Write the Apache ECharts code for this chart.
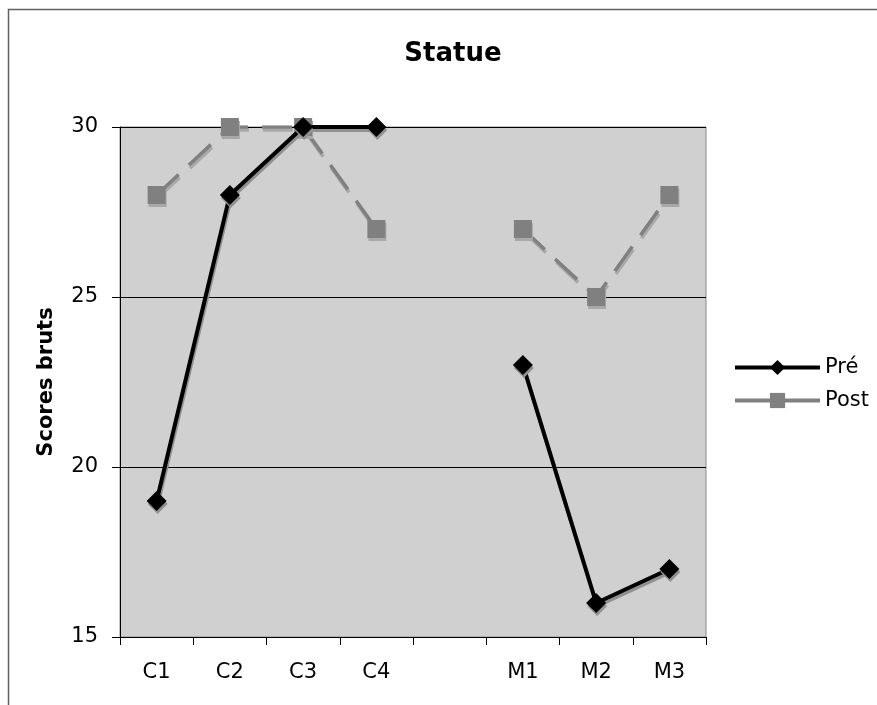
<!DOCTYPE html>
<html>
<head>
<meta charset="utf-8">
<script src="https://cdn.jsdelivr.net/npm/echarts@6/dist/echarts.min.js"></script>
<style>
  html, body { margin: 0; padding: 0; background: #fff; }
  #chart { width: 877px; height: 705px; }
</style>
</head>
<body>
<div id="chart"></div>
<script>
// Categories (an empty slot separates the C group from the M group)
const categories = ['C1', 'C2', 'C3', 'C4', '', 'M1', 'M2', 'M3'];
// Raw scores
const preScores = [19, 28, 30, 30, null, 23, 16, 17];
const postScores = [28, 30, 30, 27, null, 27, 25, 28];
const yTicks = { min: 15, max: 30, step: 5 };

const FONT = 'DejaVu Sans, Verdana, sans-serif';
const chart = echarts.init(document.getElementById('chart'), null, { renderer: 'canvas' });

const preLine = {
  color: '#000', width: 4,
  shadowColor: '#909090', shadowOffsetX: 1, shadowOffsetY: 3, shadowBlur: 0
};
const postLine = {
  color: '#808080', width: 3.5, type: [30, 14],
  shadowColor: '#a8a8a8', shadowOffsetX: 1, shadowOffsetY: 3, shadowBlur: 0
};

chart.setOption({
  animation: false,
  backgroundColor: '#ffffff',
  title: {
    text: 'Statue',
    left: 448,
    top: 36,
    textAlign: 'center',
    textStyle: { fontFamily: FONT, fontSize: 26, fontWeight: 'bold', color: '#000' }
  },
  graphic: [{
    type: 'rect',
    shape: { x: 8.5, y: 9.5, width: 900, height: 800 },
    style: { fill: 'none', stroke: '#606060', lineWidth: 1.5 },
    z: -1
  }],
  legend: {
    orient: 'vertical',
    left: 728,
    top: 352,
    itemWidth: 85,
    itemHeight: 19,
    itemGap: 12,
    textStyle: { fontFamily: FONT, fontSize: 21, color: '#000' },
    data: [
      { name: 'Pré', lineStyle: { width: 4, shadowBlur: 0, shadowOffsetX: 0, shadowOffsetY: 0 } },
      { name: 'Post', lineStyle: { width: 4, type: 'solid', shadowBlur: 0, shadowOffsetX: 0, shadowOffsetY: 0 } }
    ]
  },
  grid: {
    left: 120, top: 127, width: 586, height: 510,
    show: true,
    backgroundColor: '#d0d0d0',
    borderColor: '#8a8a8a',
    borderWidth: 1
  },
  xAxis: {
    type: 'category',
    data: categories,
    boundaryGap: true,
    axisLine: { lineStyle: { color: '#000', width: 1 } },
    axisTick: { show: true, interval: 0, length: 8, lineStyle: { color: '#000' } },
    axisLabel: { interval: 0, margin: 25, fontFamily: FONT, fontSize: 21, color: '#000' }
  },
  yAxis: {
    type: 'value',
    min: yTicks.min,
    max: yTicks.max,
    interval: yTicks.step,
    name: 'Scores bruts',
    nameLocation: 'middle',
    nameGap: 63,
    nameRotate: 90,
    nameTextStyle: { fontFamily: FONT, fontSize: 21, fontWeight: 'bold', color: '#000' },
    axisLine: { show: true, lineStyle: { color: '#000', width: 1 } },
    axisTick: { show: true, length: 8, lineStyle: { color: '#000' } },
    axisLabel: { margin: 22, fontFamily: FONT, fontSize: 21, color: '#000' },
    splitLine: { show: true, lineStyle: { color: '#000', width: 1 } }
  },
  series: [
    {
      name: 'Post',
      type: 'line',
      data: postScores,
      connectNulls: false,
      symbol: 'rect',
      symbolSize: 18,
      z: 2,
      lineStyle: postLine,
      itemStyle: {
        color: '#808080', borderWidth: 0,
        shadowColor: '#a8a8a8', shadowOffsetX: 1, shadowOffsetY: 3, shadowBlur: 0
      }
    },
    {
      name: 'Pré',
      type: 'line',
      data: preScores,
      connectNulls: false,
      symbol: 'diamond',
      symbolSize: 20,
      z: 3,
      lineStyle: preLine,
      itemStyle: {
        color: '#000', borderWidth: 0,
        shadowColor: '#909090', shadowOffsetX: 1, shadowOffsetY: 3, shadowBlur: 0
      }
    }
  ]
});
</script>
</body>
</html>
